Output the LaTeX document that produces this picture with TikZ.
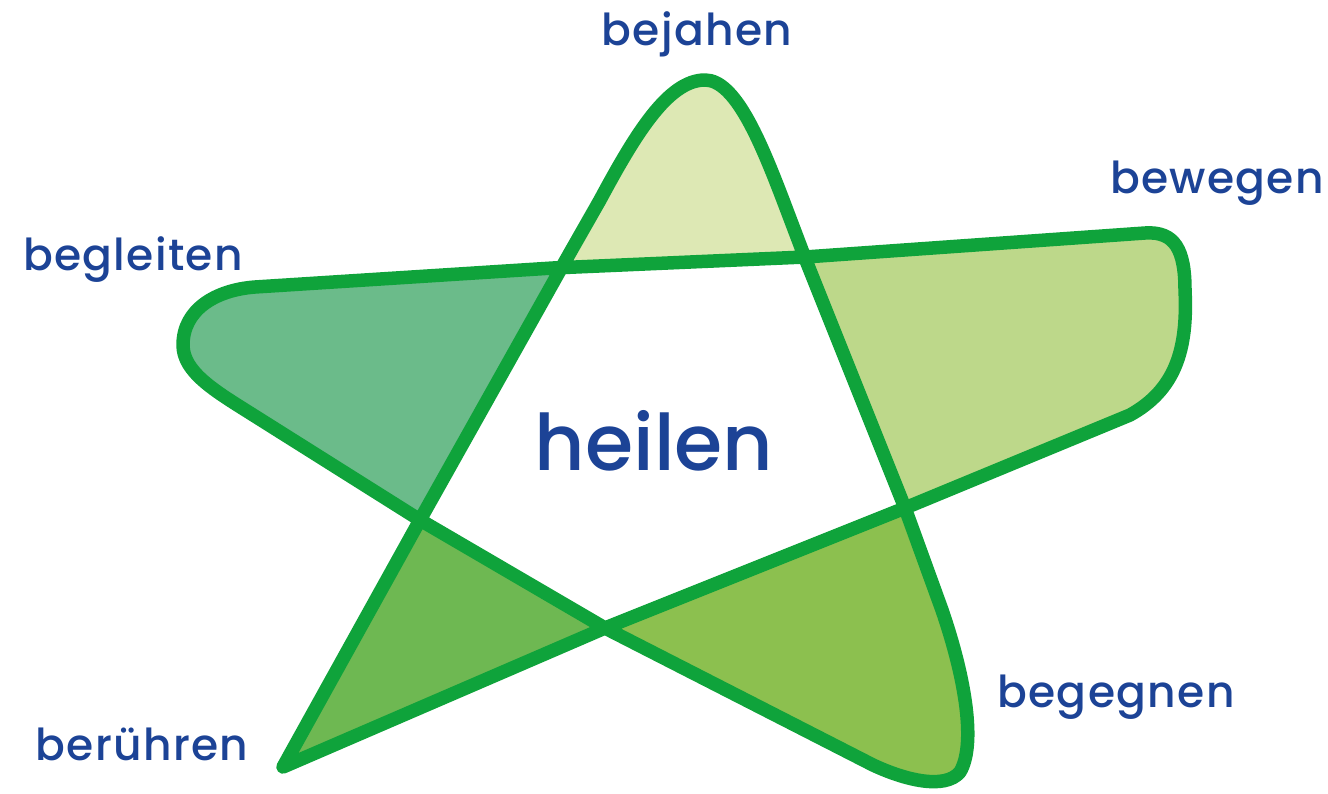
\documentclass[tikz,border=0pt]{standalone}
\usepackage{fontspec}
\usetikzlibrary{calc}
\newfontfamily\lbl{Poppins Medium}[LetterSpace=3]
\newfontfamily\biglbl{Poppins Medium}
\definecolor{stroke}{HTML}{0FA33B}
\definecolor{txt}{HTML}{1C4396}
\definecolor{ctop}{HTML}{DDE8B4}
\definecolor{cleft}{HTML}{6BBB8A}
\definecolor{cright}{HTML}{BDD88A}
\definecolor{cbl}{HTML}{6EB852}
\definecolor{cbr}{HTML}{8CC04F}
\tikzset{
  lab/.style={font=\lbl\fontsize{44}{48}\selectfont, text=txt, anchor=base, inner sep=0pt},
  biglab/.style={font=\biglbl\fontsize{78}{84}\selectfont, text=txt, anchor=base, inner sep=0pt},
  starline/.style={draw=stroke, line width=13.5pt, line join=round, line cap=round}
}
\def\starpath{(563,265) -- (600,200) .. controls (635,135) and (668,80) .. (705,80)
  .. controls (735,80) and (760,140) .. (783,200) -- (805,258) -- (905,508) -- (942,610)
  .. controls (966,680) and (976,745) .. (960,772) .. controls (945,790) and (905,780) .. (873,765)
  -- (605,628) -- (420,520) -- (250,413)
  .. controls (215,391) and (183,372) .. (183,345) .. controls (183,310) and (215,290) .. (255,287)
  -- (553,268) -- (805,257) -- (1145,233)
  .. controls (1175,231) and (1185,250) .. (1185,290)
  .. controls (1188,350) and (1175,390) .. (1130,415)
  -- (905,508) -- (605,628) -- (283,767) -- (420,520) -- cycle}
\begin{document}
\begin{tikzpicture}[x=1pt,y=-1pt]
\useasboundingbox (0,0) rectangle (1328,793);
\coordinate (C) at (660,440);
\coordinate (vTL) at (558,268);
\coordinate (vTR) at (807,257);
\coordinate (vR) at (905,508);
\coordinate (vB) at (605,628);
\coordinate (vL) at (420,520);
\foreach \a/\b/\col in {vTL/vTR/ctop, vTR/vR/cright, vR/vB/cbr, vB/vL/cbl, vL/vTL/cleft}{
  \begin{scope}
    \clip (C) -- ($(C)!6!(\a)$) -- ($(C)!6!(\b)$) -- cycle;
    \fill[\col, even odd rule] \starpath;
  \end{scope}
}
\path[starline] \starpath;
\node[lab] (bejahen) at (697,45) {bejahen};
\node[lab] (bewegen) at (1217,193) {bewegen};
\node[lab] (begleiten) at (133,270) {begleiten};
\node[biglab] (heilen) at (654,470) {heilen};
\node[lab] (begegnen) at (1116,707) {begegnen};
\node[lab] (beruehren) at (142,760) {berühren};
\end{tikzpicture}
\end{document}
